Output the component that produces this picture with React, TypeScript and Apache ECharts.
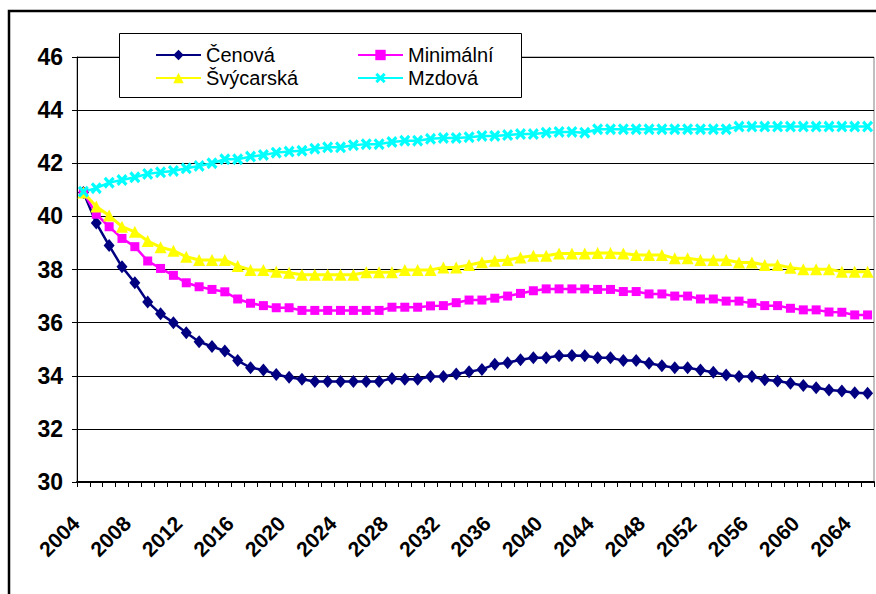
import { useEffect, useRef } from "react";
import * as echarts from "echarts";

// Years 2004–2065 on the category axis
const years: string[] = Array.from({ length: 62 }, (_, i) => String(2004 + i));

const cenova = [
  40.9, 39.75, 38.9, 38.1, 37.5, 36.78, 36.33, 36.0, 35.62, 35.28,
  35.1, 34.93, 34.57, 34.3, 34.22, 34.05, 33.94, 33.87, 33.78, 33.78,
  33.78, 33.78, 33.78, 33.78, 33.9, 33.87, 33.87, 33.97, 33.97, 34.07,
  34.15, 34.24, 34.43, 34.49, 34.6, 34.68, 34.68, 34.75, 34.76, 34.75,
  34.68, 34.68, 34.57, 34.57, 34.47, 34.38, 34.3, 34.3, 34.22, 34.13,
  34.03, 33.97, 33.97, 33.85, 33.8, 33.72, 33.63, 33.55, 33.46, 33.43,
  33.36, 33.34,
];

const minimalni = [
  40.9, 40.08, 39.61, 39.17, 38.86, 38.32, 38.04, 37.78, 37.5, 37.35,
  37.25, 37.16, 36.89, 36.73, 36.64, 36.56, 36.56, 36.46, 36.46, 36.46,
  36.46, 36.46, 36.46, 36.46, 36.58, 36.58, 36.58, 36.63, 36.64, 36.75,
  36.85, 36.85, 36.92, 37.0, 37.1, 37.2, 37.27, 37.27, 37.27, 37.27,
  37.25, 37.25, 37.17, 37.17, 37.08, 37.08, 37.0, 37.0, 36.89, 36.89,
  36.81, 36.81, 36.73, 36.64, 36.64, 36.54, 36.48, 36.48, 36.4, 36.39,
  36.29, 36.29,
];

const svycarska = [
  40.9, 40.37, 40.03, 39.61, 39.42, 39.07, 38.84, 38.71, 38.48, 38.36,
  38.36, 38.36, 38.13, 37.98, 37.98, 37.92, 37.88, 37.8, 37.8, 37.8,
  37.8, 37.8, 37.9, 37.9, 37.9, 37.98, 37.98, 37.98, 38.08, 38.08,
  38.17, 38.27, 38.33, 38.36, 38.45, 38.52, 38.52, 38.6, 38.6, 38.6,
  38.62, 38.62, 38.6, 38.55, 38.55, 38.55, 38.42, 38.42, 38.36, 38.36,
  38.36, 38.26, 38.26, 38.17, 38.17, 38.07, 38.01, 38.01, 38.01, 37.92,
  37.92, 37.92,
];

const mzdova = [
  40.93, 41.06, 41.27, 41.37, 41.47, 41.6, 41.66, 41.71, 41.81, 41.9,
  42.0, 42.15, 42.15, 42.25, 42.31, 42.4, 42.44, 42.47, 42.55, 42.6,
  42.6, 42.68, 42.72, 42.72, 42.8, 42.85, 42.85, 42.92, 42.95, 42.95,
  42.98, 43.03, 43.03, 43.06, 43.1, 43.1, 43.15, 43.18, 43.18, 43.15,
  43.28, 43.28, 43.28, 43.28, 43.28, 43.28, 43.28, 43.28, 43.28, 43.28,
  43.28, 43.38, 43.38, 43.38, 43.38, 43.38, 43.38, 43.38, 43.38, 43.38,
  43.38, 43.38,
];

const seriesNames = ["Čenová", "Minimální", "Švýcarská", "Mzdová"];

// "x" shaped marker with thick arms
const crossSymbol =
  "path://M0,2L2,0L5,3L8,0L10,2L7,5L10,8L8,10L5,7L2,10L0,8L3,5Z";

const axisFont = "'Liberation Sans', Arial, sans-serif";
const legendFont = "'Liberation Sans', Arial, sans-serif";

export default function App() {
  const ref = useRef<HTMLDivElement>(null);

  useEffect(() => {
    if (!ref.current) return;
    const chart = echarts.init(ref.current, null, { renderer: "svg" });

    const mkSeries = (
      name: string,
      data: number[],
      color: string,
      symbol: string,
      symbolSize: number | number[],
      width: number
    ) => ({
      name,
      type: "line",
      data,
      symbol,
      symbolSize,
      showAllSymbol: true,
      lineStyle: { color, width },
      itemStyle: { color },
      emphasis: { disabled: true },
    });

    const legendText = { color: "#000", fontSize: 20, fontFamily: legendFont, lineHeight: 22 };

    chart.setOption({
      animation: false,
      backgroundColor: "#ffffff",
      grid: {
        left: 77,
        right: 2,
        top: 57,
        bottom: 112,
        show: true,
        borderColor: "#808080",
        borderWidth: 1,
      },
      xAxis: {
        type: "category",
        data: years,
        boundaryGap: true,
        axisLine: { lineStyle: { color: "#000", width: 2 } },
        axisTick: { show: true, interval: 0, length: 5, lineStyle: { color: "#000" } },
        axisLabel: {
          interval: 3,
          rotate: 45,
          margin: 30,
          padding: [0, 11, 0, 0],
          color: "#000",
          fontWeight: "bold",
          fontSize: 21,
          fontFamily: axisFont,
        },
        splitLine: { show: false },
      },
      yAxis: {
        type: "value",
        min: 30,
        max: 46,
        interval: 2,
        axisLine: { show: true, lineStyle: { color: "#000", width: 1 } },
        axisTick: { show: true, length: 5, lineStyle: { color: "#000" } },
        axisLabel: {
          margin: 14,
          color: "#000",
          fontWeight: "bold",
          fontSize: 23,
          fontFamily: axisFont,
        },
        splitLine: { show: true, lineStyle: { color: "#000", width: 1 } },
      },
      legend: [
        {
          data: [seriesNames[0], seriesNames[2]],
          orient: "vertical",
          left: 150,
          top: 39,
          itemWidth: 45,
          itemHeight: 13,
          itemGap: 1,
          textStyle: legendText,
          z: 5,
        },
        {
          data: [seriesNames[1], seriesNames[3]],
          orient: "vertical",
          left: 352,
          top: 39,
          itemWidth: 45,
          itemHeight: 13,
          itemGap: 1,
          textStyle: legendText,
          z: 5,
        },
      ],
      graphic: [
        {
          type: "rect",
          z: 3,
          shape: { x: 119.5, y: 33.5, width: 402, height: 64 },
          style: { fill: "#fff", stroke: "#000", lineWidth: 1 },
        },
        {
          type: "polyline",
          z: 3,
          shape: { points: [[9, 600], [9, 11], [880, 11]] },
          style: { fill: "none", stroke: "#000", lineWidth: 2.5 },
        },
      ],
      series: [
        mkSeries(seriesNames[0], cenova, "#000080", "diamond", [11, 13], 2.5),
        mkSeries(seriesNames[1], minimalni, "#FF00FF", "rect", 9, 2.5),
        mkSeries(seriesNames[2], svycarska, "#FFFF00", "triangle", 12, 3),
        mkSeries(seriesNames[3], mzdova, "#00FFFF", crossSymbol, [11, 12], 2.5),
      ],
    });

    return () => chart.dispose();
  }, []);

  return (
    <div
      ref={ref}
      style={{ position: "fixed", left: 0, top: 0, width: 876, height: 594, background: "#fff" }}
    />
  );
}
